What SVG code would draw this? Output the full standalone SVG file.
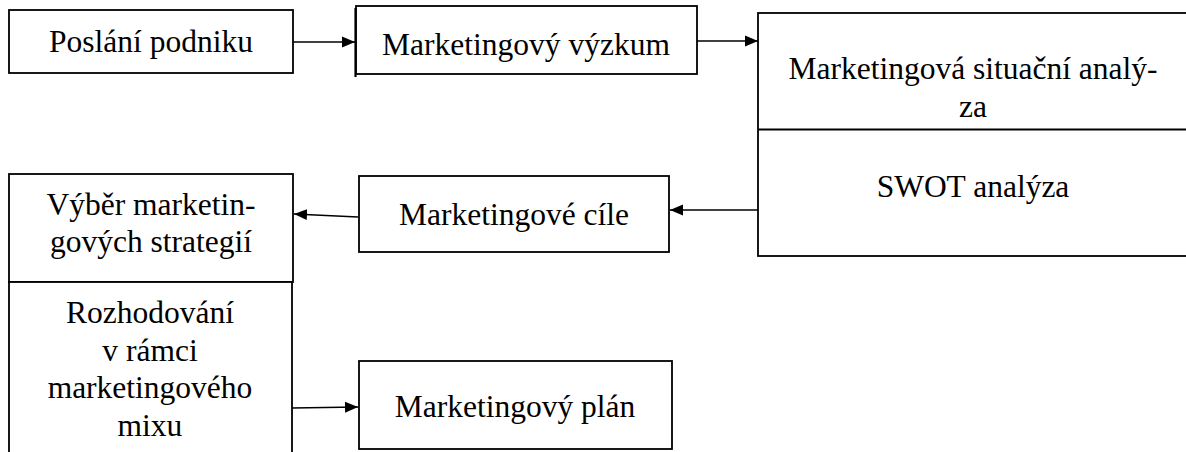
<svg xmlns="http://www.w3.org/2000/svg" width="1186" height="452" viewBox="0 0 1186 452">
  <style>
    .box { fill: #ffffff; stroke: #000000; stroke-width: 1.8; }
    .lbl { font-family: "Liberation Serif", "Times New Roman", serif; font-size: 31.5px; fill: #000000; text-anchor: middle; }
    .conn { stroke: #000000; stroke-width: 1.6; fill: none; marker-end: url(#arrow); }
  </style>
  <defs>
    <marker id="arrow" markerUnits="userSpaceOnUse" markerWidth="14" markerHeight="12" refX="13" refY="6" orient="auto">
      <path d="M0,0.5 L13,6 L0,11.5 Z" fill="#000000"/>
    </marker>
  </defs>
  <rect width="1186" height="452" fill="#ffffff"/>

  <!-- Connectors -->
  <g id="connectors">
    <line class="conn" x1="293" y1="42" x2="355" y2="42"/>
    <line class="conn" x1="697" y1="41" x2="758" y2="41"/>
    <line class="conn" x1="758" y1="210" x2="670" y2="210"/>
    <line class="conn" x1="358" y1="217" x2="294" y2="214"/>
    <line class="conn" x1="292" y1="408" x2="358" y2="407"/>
  </g>

  <!-- Mission -->
  <g id="node-poslani">
    <rect class="box" x="9" y="10" width="284" height="63"/>
    <text class="lbl" x="151" y="52">Poslání podniku</text>
  </g>

  <!-- Research -->
  <g id="node-vyzkum">
    <rect class="box" x="356" y="6" width="341" height="68"/>
    <line x1="355.5" y1="8" x2="355.5" y2="77" stroke="#000000" stroke-width="2.2"/>
    <text class="lbl" x="526" y="55">Marketingový výzkum</text>
  </g>

  <!-- Situation analysis with SWOT -->
  <g id="node-analyza">
    <rect class="box" x="758" y="13" width="432" height="243"/>
    <line x1="758" y1="129.5" x2="1190" y2="129.5" stroke="#000000" stroke-width="1.8"/>
    <text class="lbl" x="973" y="79">Marketingová situační analý-</text>
    <text class="lbl" x="973" y="117">za</text>
    <text class="lbl" x="973" y="197">SWOT analýza</text>
  </g>

  <!-- Objectives -->
  <g id="node-cile">
    <rect class="box" x="359" y="176" width="310" height="76"/>
    <text class="lbl" x="514" y="225">Marketingové cíle</text>
  </g>

  <!-- Strategy selection -->
  <g id="node-strategie">
    <rect class="box" x="9" y="174" width="284" height="108"/>
    <text class="lbl" x="151" y="215">Výběr marketin-</text>
    <text class="lbl" x="151" y="252">gových strategií</text>
  </g>

  <!-- Marketing mix decisions -->
  <g id="node-mix">
    <rect class="box" x="9" y="282" width="283" height="200"/>
    <text class="lbl" x="150" y="323">Rozhodování</text>
    <text class="lbl" x="150" y="360.5">v rámci</text>
    <text class="lbl" x="150" y="398">marketingového</text>
    <text class="lbl" x="150" y="435.5">mixu</text>
  </g>

  <!-- Plan -->
  <g id="node-plan">
    <rect class="box" x="359" y="361" width="313" height="88"/>
    <text class="lbl" x="515" y="417">Marketingový plán</text>
  </g>
</svg>
